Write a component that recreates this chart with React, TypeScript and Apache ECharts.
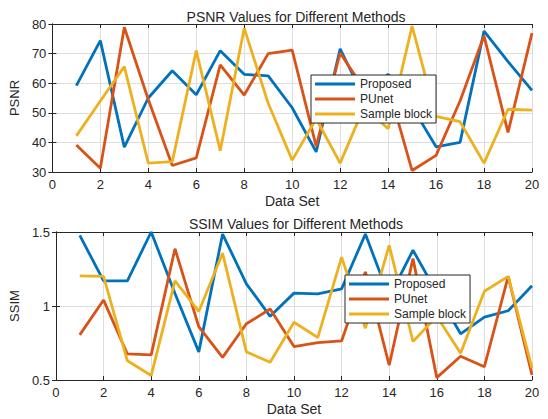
import React, { useEffect, useRef } from "react";
import * as echarts from "echarts";

const dataSets = [1, 2, 3, 4, 5, 6, 7, 8, 9, 10, 11, 12, 13, 14, 15, 16, 17, 18, 19, 20];
const methodNames = ["Proposed", "PUnet", "Sample block"];

const psnrProposed = [59.2, 74.4, 38.4, 55, 64.2, 56.1, 71, 63, 62.5, 51.7, 36.8, 71.6, 55, 63, 52, 38.5, 40, 77.6, 67.3, 57.6];
const psnrPUnet = [39.1, 31.3, 78.9, 54.5, 32.2, 34.8, 66.2, 56, 70, 71.2, 38.7, 70.2, 58, 59, 30.5, 35.6, 54, 76, 43.4, 76.9];
const psnrSample = [42.2, 54, 65.6, 33, 33.5, 71, 37.2, 78.6, 53.2, 34, 48, 33, 52, 44.6, 79.3, 48.8, 47, 33, 51.2, 50.9];

const ssimProposed = [1.477, 1.17, 1.17, 1.5, 1.085, 0.69, 1.486, 1.15, 0.93, 1.087, 1.082, 1.116, 1.486, 1.06, 1.377, 1.09, 0.812, 0.925, 0.968, 1.137];
const ssimPUnet = [0.805, 1.04, 0.676, 0.67, 1.387, 0.86, 0.653, 0.88, 0.98, 0.726, 0.753, 0.764, 1.23, 0.6, 1.32, 0.516, 0.66, 0.59, 1.2, 0.535];
const ssimSample = [1.204, 1.2, 0.63, 0.53, 1.17, 0.963, 1.357, 0.69, 0.62, 0.89, 0.787, 1.33, 0.85, 1.41, 0.76, 0.93, 0.68, 1.1, 1.2, 0.58];

const xTicks = { min: 0, max: 20, interval: 2 };
const psnrTicks = { min: 30, max: 80, interval: 10 };
const ssimTicks = { min: 0.5, max: 1.5, interval: 0.5 };

const colors = ["#0072BD", "#D95319", "#EDB120"];
const FONT = "Liberation Sans, Arial, Helvetica, sans-serif";
const TXT = "#262626";

export default function App() {
  const ref = useRef<HTMLDivElement>(null);
  useEffect(() => {
    if (!ref.current) return;
    const chart = echarts.init(ref.current, null, { renderer: "svg" });
    const grids = [
      { left: 50, right: 16, top: 24, height: 148 },
      { left: 50, right: 16, top: 232, height: 148 },
    ];
    const mkX = (gi: number, main: boolean) => ({
      type: "value",
      gridIndex: gi,
      min: xTicks.min,
      max: xTicks.max,
      interval: xTicks.interval,
      position: main ? "bottom" : "top",
      name: main ? "Data Set" : "",
      nameLocation: "middle",
      nameGap: 22,
      nameTextStyle: { fontFamily: FONT, fontSize: 14, color: TXT },
      axisLine: { show: true, lineStyle: { color: TXT, width: 1 } },
      axisTick: { show: true, inside: true, length: 4, lineStyle: { color: TXT } },
      axisLabel: { show: main, fontFamily: FONT, fontSize: 13, color: TXT, margin: 6 },
      splitLine: { show: main, lineStyle: { color: "#dedede", width: 1 } },
    });
    const mkY = (gi: number, main: boolean, t: any, name: string) => ({
      type: "value",
      gridIndex: gi,
      min: t.min,
      max: t.max,
      interval: t.interval,
      position: main ? "left" : "right",
      name: main ? name : "",
      nameLocation: "middle",
      nameGap: 17,
      nameTextStyle: { fontFamily: FONT, fontSize: 13, color: TXT },
      axisLine: { show: true, lineStyle: { color: TXT, width: 1 } },
      axisTick: { show: true, inside: true, length: 4, lineStyle: { color: TXT } },
      axisLabel: { show: main, fontFamily: FONT, fontSize: 13, color: TXT, margin: 6 },
      splitLine: { show: main, lineStyle: { color: "#dedede", width: 1 } },
    });
    const pairs = (vals: number[]) => dataSets.map((x, i) => [x, vals[i]]);
    const mkSeries = (name: string, vals: number[], gi: number, ci: number) => ({
      type: "line",
      name,
      xAxisIndex: gi * 2,
      yAxisIndex: gi * 2,
      data: pairs(vals),
      symbol: "none",
      lineStyle: { width: 2.8, color: colors[ci] },
      itemStyle: { color: colors[ci] },
    });
    const mkLegend = (left: number, top: number) => ({
      left,
      top,
      orient: "vertical",
      data: methodNames,
      icon: "rect",
      itemWidth: 40,
      itemHeight: 3,
      itemGap: 3,
      itemTextGap: 5,
      padding: [3, 4, 3, 4],
      backgroundColor: "#ffffff",
      borderColor: TXT,
      borderWidth: 1,
      borderRadius: 0,
      selectedMode: false,
      textStyle: { fontFamily: FONT, fontSize: 12, color: TXT, lineHeight: 12 },
      z: 10,
    });
    chart.setOption({
      animation: false,
      backgroundColor: "#ffffff",
      color: colors,
      title: [
        {
          text: "PSNR Values for Different Methods",
          left: 291,
          top: 5,
          textAlign: "center",
          textStyle: { fontFamily: FONT, fontSize: 14, fontWeight: "normal", color: TXT },
        },
        {
          text: "SSIM Values for Different Methods",
          left: 291,
          top: 212,
          textAlign: "center",
          textStyle: { fontFamily: FONT, fontSize: 14, fontWeight: "normal", color: TXT },
        },
      ],
      grid: grids,
      xAxis: [mkX(0, true), mkX(0, false), mkX(1, true), mkX(1, false)],
      yAxis: [
        mkY(0, true, psnrTicks, "PSNR"),
        mkY(0, false, psnrTicks, ""),
        mkY(1, true, ssimTicks, "SSIM"),
        mkY(1, false, ssimTicks, ""),
      ],
      legend: [mkLegend(311, 75), mkLegend(345, 275)],
      series: [
        mkSeries(methodNames[0], psnrProposed, 0, 0),
        mkSeries(methodNames[1], psnrPUnet, 0, 1),
        mkSeries(methodNames[2], psnrSample, 0, 2),
        mkSeries(methodNames[0], ssimProposed, 1, 0),
        mkSeries(methodNames[1], ssimPUnet, 1, 1),
        mkSeries(methodNames[2], ssimSample, 1, 2),
      ],
    });
    return () => chart.dispose();
  }, []);
  return (
    <div
      ref={ref}
      style={{ position: "absolute", left: 0, top: 0, width: 548, height: 419 }}
    />
  );
}
